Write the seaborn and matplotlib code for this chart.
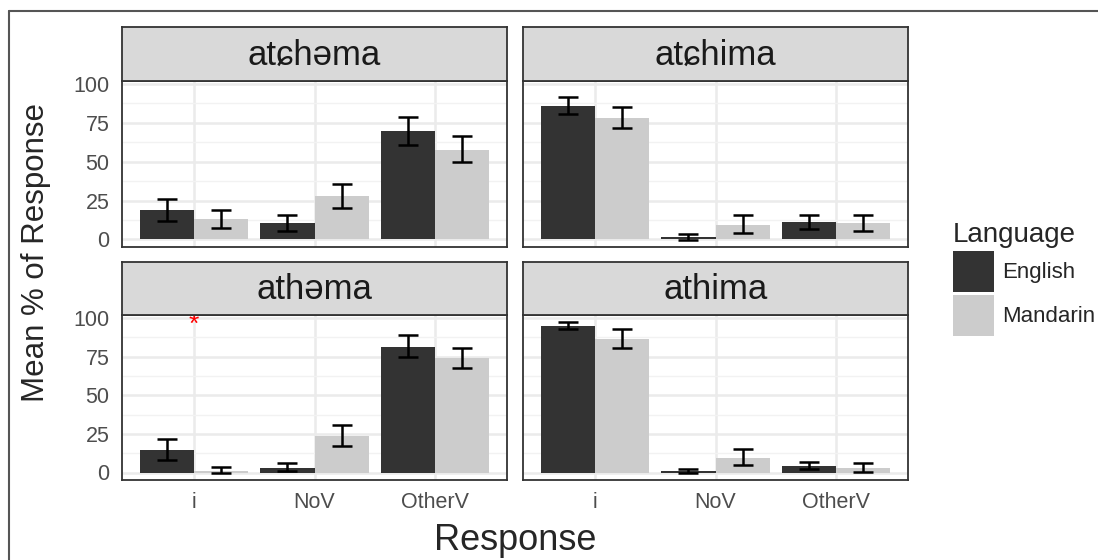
import pandas as pd
import matplotlib.pyplot as plt
import seaborn as sns
from matplotlib.patches import Patch
from matplotlib.lines import Line2D

# data
words = ["atɕhəma", "atɕhima", "athəma", "athima"]
responses = ["i", "NoV", "OtherV"]
languages = ["English", "Mandarin"]

english_mean = [
    [19.2, 10.5, 69.7],
    [85.9, 1.3, 11.1],
    [14.6, 3.0, 81.3],
    [94.6, 0.9, 3.9],
]
english_lower = [
    [12.0, 5.3, 60.9],
    [80.8, -0.3, 6.4],
    [8.2, 0.9, 74.6],
    [92.5, 0.0, 2.2],
]
english_upper = [
    [26.3, 15.4, 78.4],
    [91.5, 3.6, 16.0],
    [21.5, 6.2, 88.6],
    [97.6, 2.0, 6.9],
]
mandarin_mean = [
    [13.0, 27.8, 57.7],
    [78.2, 9.4, 10.3],
    [1.1, 23.9, 74.0],
    [86.5, 9.7, 3.0],
]
mandarin_lower = [
    [7.3, 20.5, 49.6],
    [71.6, 4.3, 5.3],
    [-0.3, 17.2, 67.5],
    [80.4, 4.7, 0.4],
]
mandarin_upper = [
    [19.2, 35.7, 66.2],
    [85.3, 15.4, 15.6],
    [3.4, 30.8, 80.6],
    [92.9, 15.0, 6.0],
]

# red significance marker
star_word = "athəma"
star_response = "i"
star_y = 91

rows = []
for w, word in enumerate(words):
    for r, resp in enumerate(responses):
        rows.append((word, resp, "English", english_mean[w][r], english_lower[w][r], english_upper[w][r]))
        rows.append((word, resp, "Mandarin", mandarin_mean[w][r], mandarin_lower[w][r], mandarin_upper[w][r]))
df = pd.DataFrame(rows, columns=["word", "Response", "Language", "mean", "lower", "upper"])

palette = {"English": "#333333", "Mandarin": "#CCCCCC"}

sns.set_style("white")
plt.rcParams['font.family'] = ['Liberation Sans', 'DejaVu Sans']

W, H = 1098, 560
fig = plt.figure(figsize=(W / 100, H / 100), dpi=100)


def box(x0, y0, x1, y1):
    return [x0 / W, 1 - y1 / H, (x1 - x0) / W, (y1 - y0) / H]


panel_x = [(122, 507), (523, 908)]
panel_y = [(81, 247), (315, 480)]
strip_y = [(27, 81), (262, 315)]

for k, word in enumerate(words):
    row, col = divmod(k, 2)
    ax = fig.add_axes(box(panel_x[col][0], panel_y[row][0], panel_x[col][1], panel_y[row][1]))
    sub = df[df["word"] == word]
    sns.barplot(data=sub, x="Response", y="mean", hue="Language", order=responses,
                hue_order=languages, palette=palette, width=0.9, errorbar=None,
                saturation=1, linewidth=0, legend=False, ax=ax, zorder=2)
    for lang, cont in zip(languages, ax.containers):
        s = sub[sub["Language"] == lang].set_index("Response").loc[responses]
        xs = [b.get_x() + b.get_width() / 2 for b in cont]
        ax.errorbar(xs, s["mean"], yerr=[s["mean"] - s["lower"], s["upper"] - s["mean"]],
                    fmt="none", ecolor="black", elinewidth=1.8, capsize=7, capthick=1.8, zorder=3)

    ax.set_xlim(-0.6, 2.6)
    ax.set_ylim(-4.85, 101.85)
    ax.set_yticks([0, 25, 50, 75, 100])
    ax.set_yticks([12.5, 37.5, 62.5, 87.5], minor=True)
    ax.set_axisbelow(True)
    ax.grid(True, which="major", color="#EBEBEB", lw=1.8)
    ax.grid(True, which="minor", axis="y", color="#F2F2F2", lw=1.0)
    ax.set_xlabel("")
    ax.set_ylabel("")
    for sp in ax.spines.values():
        sp.set_color("#333333")
        sp.set_linewidth(1.3)
    ax.tick_params(which="minor", length=0)
    ax.tick_params(which="major", length=6, width=1.5, color="#333333",
                   labelsize=15.5, labelcolor="#4D4D4D", pad=3)
    if row == 0:
        ax.tick_params(axis="x", length=0, labelbottom=False)
    if col == 1:
        ax.tick_params(axis="y", length=0, labelleft=False)

    if word == star_word:
        ax.text(responses.index(star_response), star_y, "*", color="red",
                ha="center", va="baseline", fontsize=19)

    sax = fig.add_axes(box(panel_x[col][0], strip_y[row][0], panel_x[col][1], strip_y[row][1]))
    sax.set_facecolor("#D9D9D9")
    sax.set_xticks([])
    sax.set_yticks([])
    for sp in sax.spines.values():
        sp.set_color("#333333")
        sp.set_linewidth(1.3)
    sax.text(0.5, 0.48, word, ha="center", va="center", fontsize=25, color="#1A1A1A",
             transform=sax.transAxes)

fig.text(515 / W, 1 - 541 / H, "Response", ha="center", va="center", fontsize=26)
fig.text(36 / W, 1 - 253 / H, "Mean % of Response", ha="center", va="center",
         rotation=90, fontsize=22.5)

handles = [Patch(facecolor=palette[l], edgecolor="none") for l in languages]
fig.legend(handles, languages, title="Language", loc="upper left",
           bbox_to_anchor=(953 / W, 1 - 222 / H), frameon=False, fontsize=16,
           title_fontsize=20, handlelength=1.85, handleheight=2.5, labelspacing=0.12,
           handletextpad=0.35, borderpad=0, borderaxespad=0, alignment="left")

# outer frame of the original screenshot
fig.add_artist(Line2D([9 / W, 1], [1 - 11 / H, 1 - 11 / H], color="#555555", lw=1.5))
fig.add_artist(Line2D([9 / W, 9 / W], [1 - 11 / H, 0], color="#555555", lw=1.5))

fig.savefig("out.png", dpi=100)
